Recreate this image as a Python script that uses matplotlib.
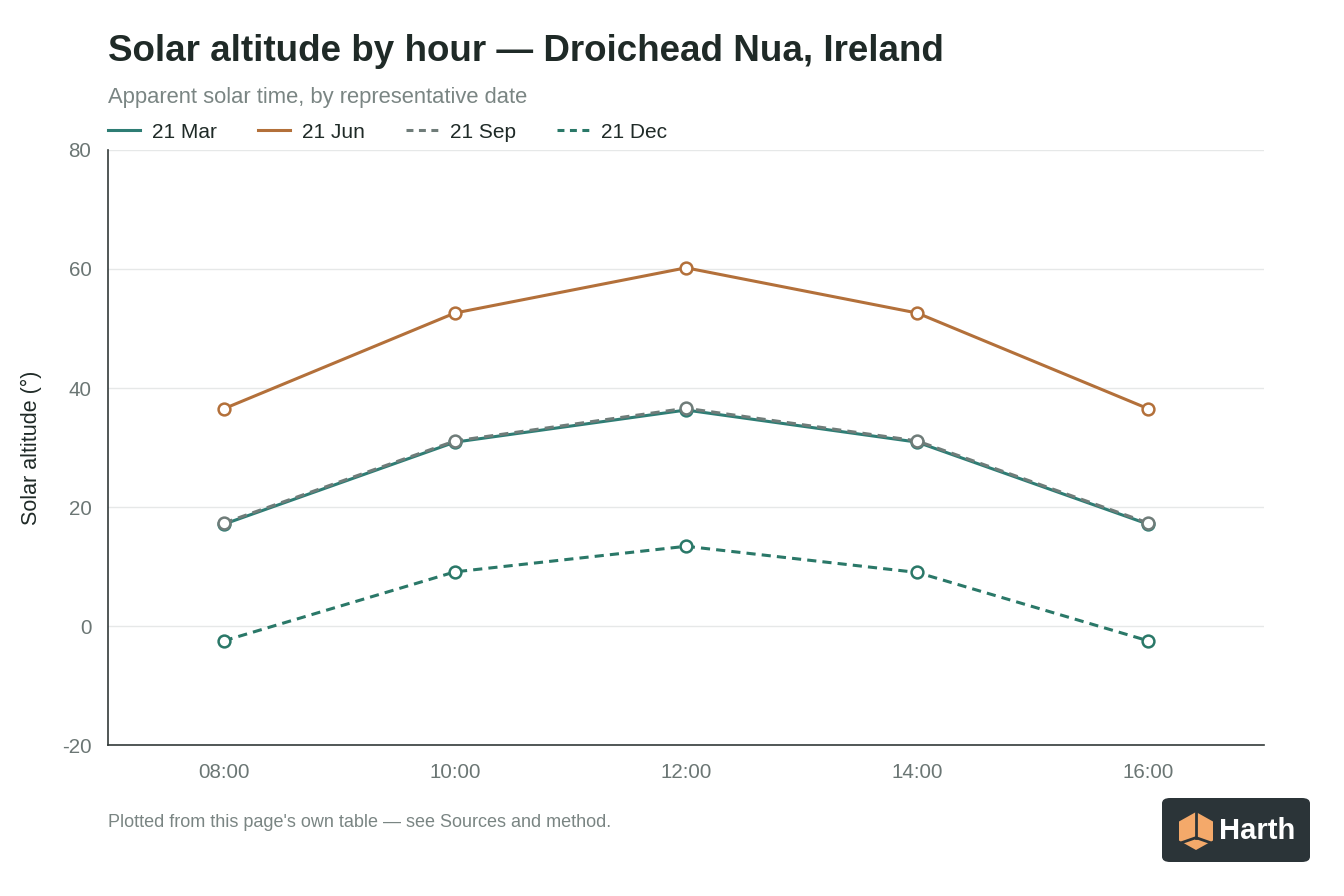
import matplotlib
matplotlib.use("Agg")
import matplotlib.pyplot as plt
from matplotlib.patches import FancyBboxPatch, Polygon

plt.rcParams['font.family'] = ['Liberation Sans', 'DejaVu Sans']

# data
hours = [8, 10, 12, 14, 16]
hour_labels = ['08:00', '10:00', '12:00', '14:00', '16:00']
y_ticks = [-20, 0, 20, 40, 60, 80]
y_labels = ['-20', '0', '20', '40', '60', '80']
mar = [17.1, 30.9, 36.3, 30.9, 17.1]
jun = [36.5, 52.6, 60.2, 52.6, 36.5]
sep = [17.3, 31.1, 36.6, 31.1, 17.3]
dec = [-2.5, 9.1, 13.4, 9.0, -2.5]

series = [
    ('21 Mar', mar, '#2e7d74', '-'),
    ('21 Jun', jun, '#b3703a', '-'),
    ('21 Sep', sep, '#6f7c79', (0, (3, 2))),
    ('21 Dec', dec, '#2a7868', (0, (3, 2))),
]

fig = plt.figure(figsize=(13.44, 8.96), dpi=100)
ax = fig.add_axes([0.0804, 0.1685, 0.8601, 0.6641])

for name, vals, col, ls in series:
    ax.plot(hours, vals, color=col, lw=2.2, ls=ls, marker='o', ms=8.5,
            mfc='white', mec=col, mew=1.8, label=name, zorder=3)

ax.set_xlim(7, 17)
ax.set_ylim(-20, 80)
ax.set_xticks(hours)
ax.set_xticklabels(hour_labels)
ax.set_yticks(y_ticks)
ax.set_yticklabels(y_labels)
ax.grid(axis='y', color='#e6e8e8', lw=1)
ax.set_axisbelow(True)
for s in ['top', 'right']:
    ax.spines[s].set_visible(False)
for s in ['left', 'bottom']:
    ax.spines[s].set_color('#333b3a')
    ax.spines[s].set_linewidth(1.2)
ax.tick_params(axis='both', length=0, labelsize=14.8, labelcolor='#6b7674', pad=12)
ax.tick_params(axis='x', pad=13)
ax.set_ylabel('Solar altitude (°)', fontsize=15.5, color='#1f2a27', labelpad=14)

fig.text(0.0804, 0.942, 'Solar altitude by hour — Droichead Nua, Ireland',
         fontsize=26.5, fontweight='bold', color='#1f2a27', va='center')
fig.text(0.0804, 0.891, 'Apparent solar time, by representative date',
         fontsize=15.8, color='#7a8583', va='center')

leg = fig.legend(loc='center left', bbox_to_anchor=(108 / 1344, 1 - 132 / 896), ncol=4,
                 frameon=False, fontsize=15, handlelength=1.55, handletextpad=0.58,
                 columnspacing=1.95, borderpad=0, borderaxespad=0)
for t in leg.get_texts():
    t.set_color('#1f2a27')
for h, (_, _, _, ls) in zip(leg.legend_handles, series):
    h.set_marker('')
    if ls != '-':
        h.set_linestyle((0, (2.27, 1.8)))

fig.text(0.0804, 0.082, "Plotted from this page's own table — see Sources and method.",
         fontsize=13, color='#7a8583', va='center')

# logo badge
W, H = 1344, 896
badge = FancyBboxPatch((1162 / W, 1 - 862 / H), 148 / W, 64 / H,
                       boxstyle='round,pad=0,rounding_size=0.006',
                       transform=fig.transFigure, fc='#2b3438', ec='none')
fig.patches.append(badge)
cx, cy = 1196 / W, 1 - 831 / H
rx, ry = 17 / W, 19 / H
hexagon = [(cx, cy + ry), (cx + rx, cy + ry * 0.5), (cx + rx, cy - ry * 0.5),
           (cx, cy - ry), (cx - rx, cy - ry * 0.5), (cx - rx, cy + ry * 0.5)]
fig.patches.append(Polygon(hexagon, closed=True, transform=fig.transFigure,
                           fc='#f4a96a', ec='none'))
mid = cy - ry * 0.35
fig.lines.append(plt.Line2D([cx, cx], [cy + ry, mid], transform=fig.transFigure,
                            color='#2b3438', lw=2))
fig.lines.append(plt.Line2D([cx - rx * 0.8, cx, cx + rx * 0.8],
                            [cy - ry * 0.6, mid, cy - ry * 0.6],
                            transform=fig.transFigure, color='#2b3438', lw=2))
fig.text(1219 / W, 1 - 831 / H, 'Harth', fontsize=21, fontweight='bold',
         color='white', va='center')

fig.savefig('out.png', dpi=100, facecolor='white')
